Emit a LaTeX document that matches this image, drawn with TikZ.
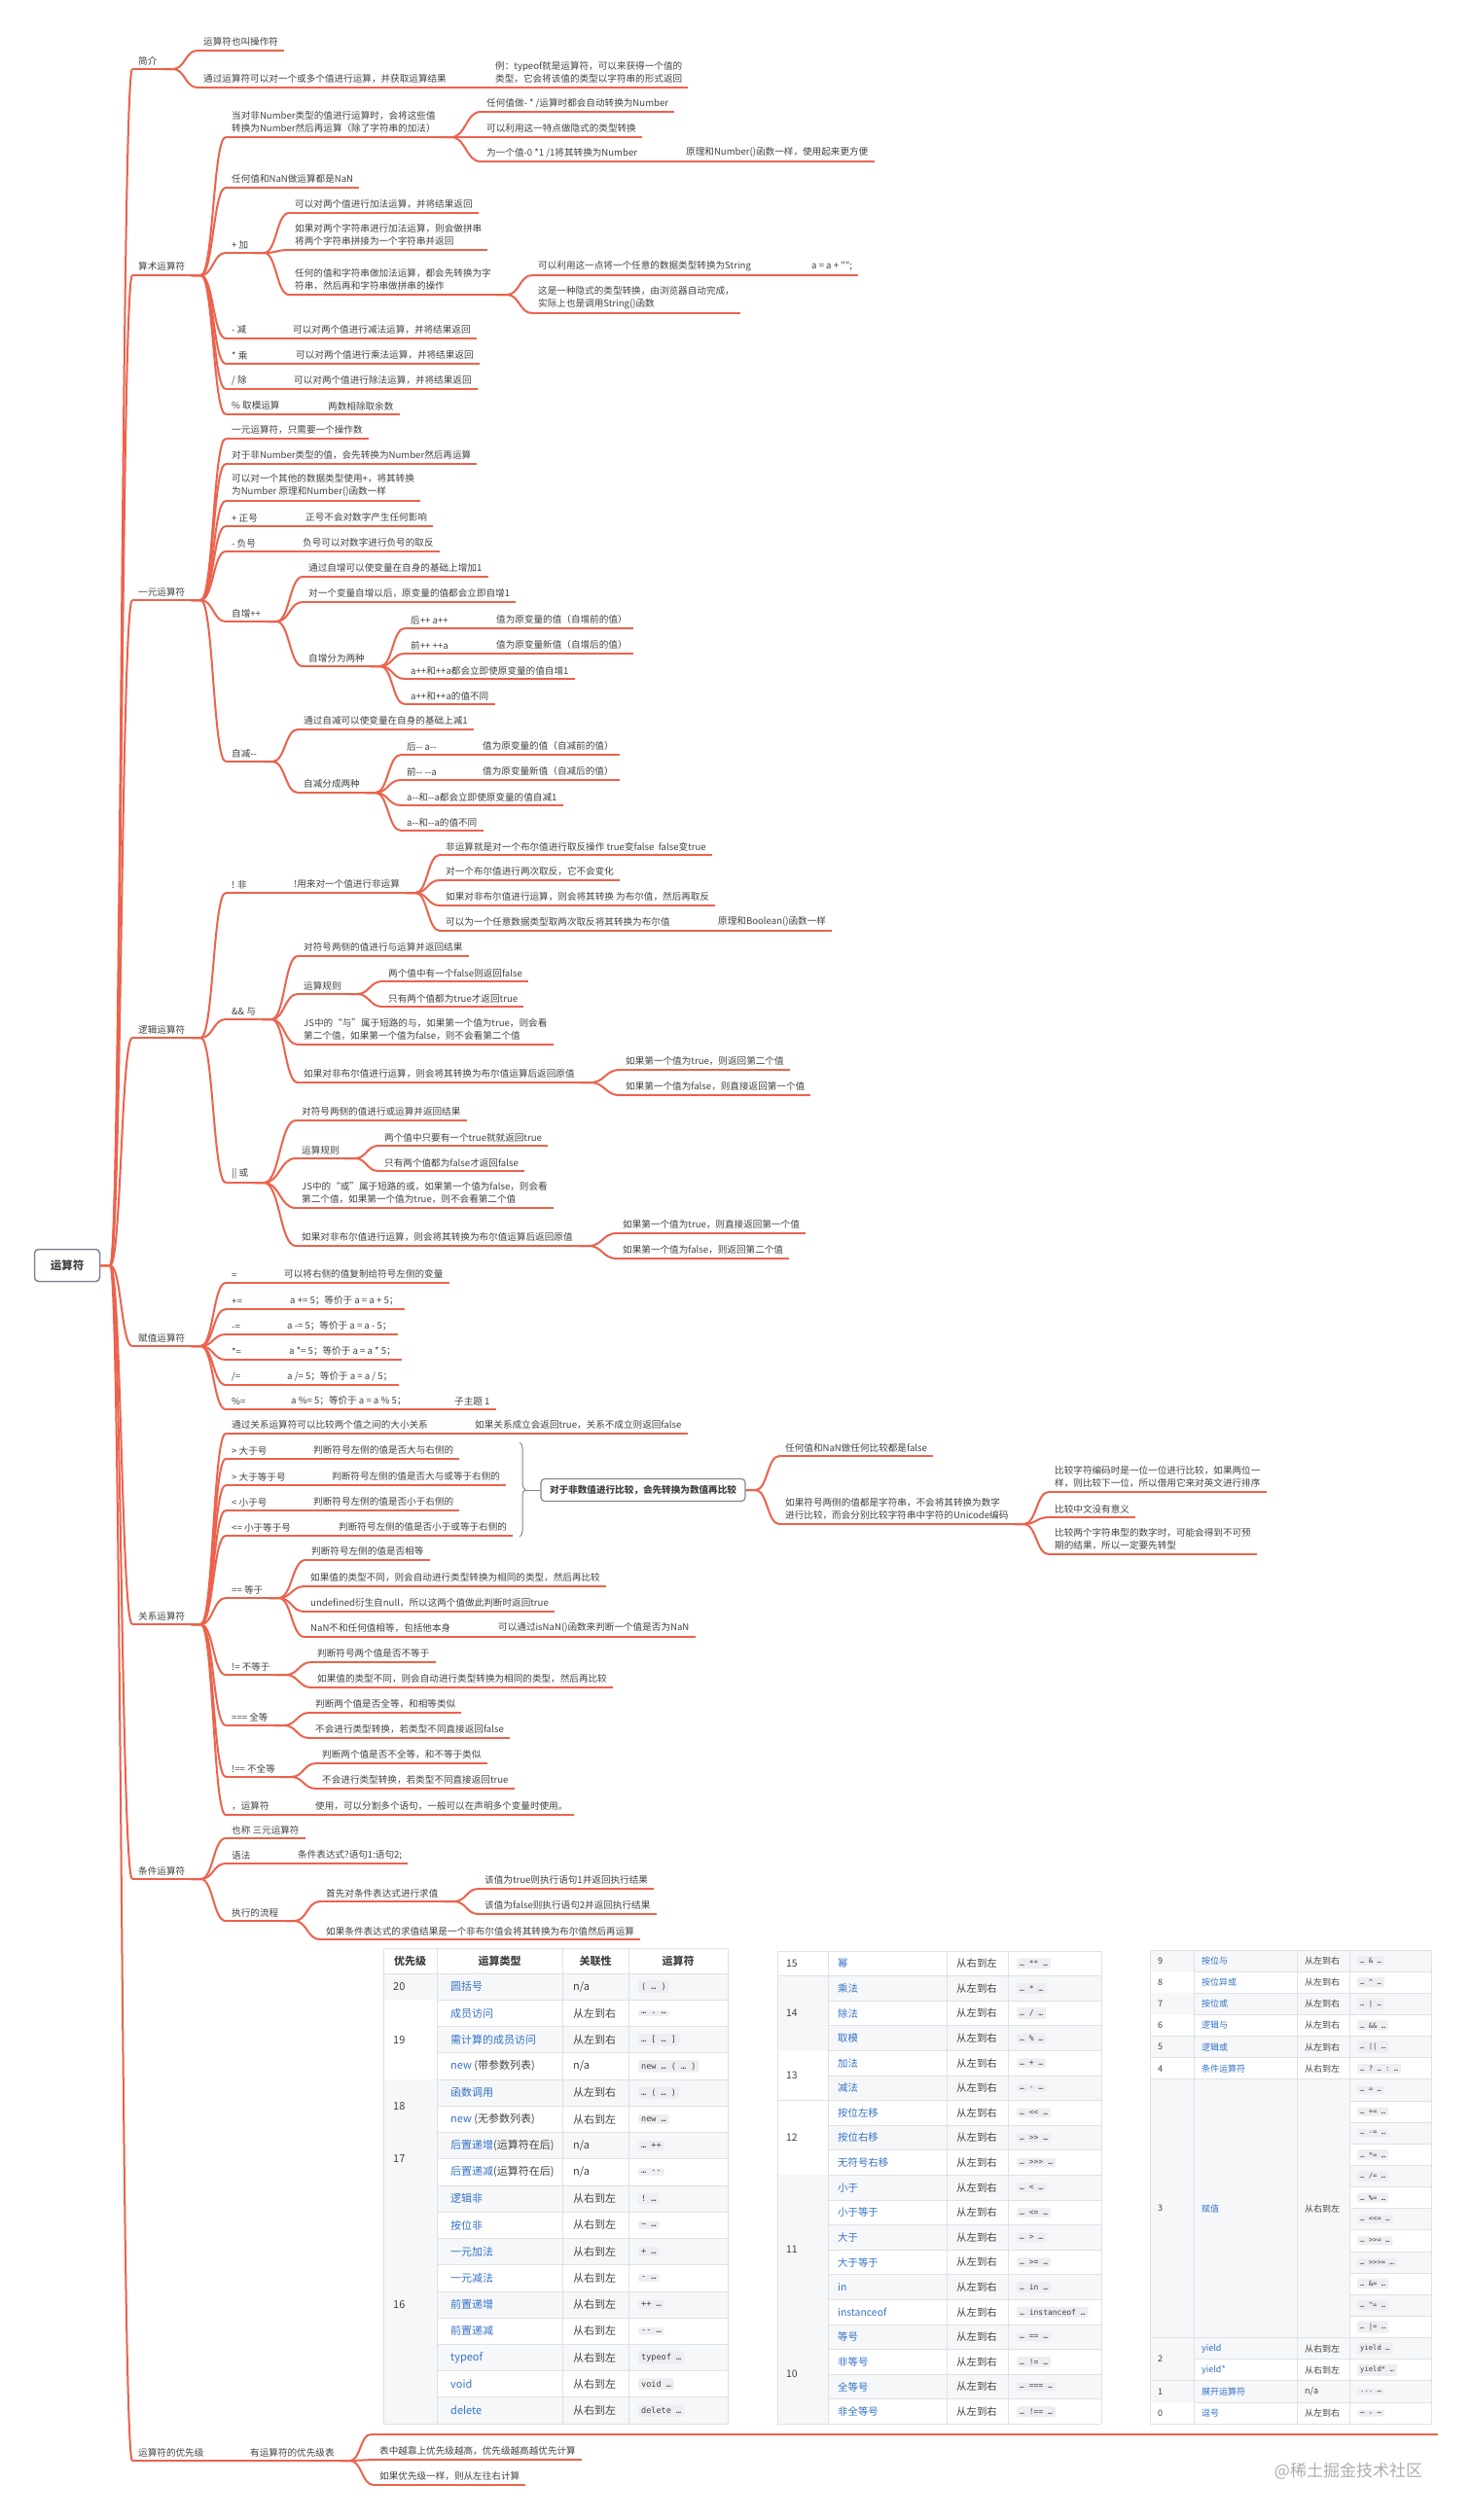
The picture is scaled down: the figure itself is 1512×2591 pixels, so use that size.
\documentclass[tikz,border=0pt]{standalone}
\usepackage{fontspec}
\setmainfont{Noto Sans CJK SC}[Ligatures=TeXOff]
\setmonofont{DejaVu Sans Mono}
\usetikzlibrary{calc,decorations.pathreplacing}
\definecolor{branch}{RGB}{236,98,76}
\definecolor{txt}{RGB}{66,66,66}
\definecolor{lnk}{RGB}{53,114,198}
\definecolor{tblline}{RGB}{222,225,229}
\definecolor{stripe}{RGB}{245,247,249}
\definecolor{pillbg}{RGB}{236,238,241}
\definecolor{boxln}{RGB}{128,134,144}
\newcommand{\lk}[1]{\textcolor{lnk}{#1}}
\newcommand{\mmfont}{\fontsize{9.6}{13}\selectfont}
\newcommand{\mmlink}[3][south east]{%
  \draw[br] let \p1=(#2.#1), \p2=(#3.south west) in
    (\p1) -- ({\x1+10pt},\y1)
    .. controls ({0.5*\x1+0.5*\x2+5pt},\y1) and ({0.5*\x1+0.5*\x2+5pt},\y2) .. (\p2);}
\tikzset{
  br/.style={draw=branch, line width=2pt},
  tn/.style={anchor=south west, inner xsep=6pt, inner ysep=4pt, text=txt, align=left, font=\mmfont,
    append after command={(\tikzlastnode.south west) edge[br] (\tikzlastnode.south east)}},
  rootbox/.style={draw=boxln, line width=1.5pt, rounded corners=4pt, minimum width=67pt,
    minimum height=33pt, text=txt, font=\fontsize{11.5}{12}\selectfont\bfseries},
  sumbox/.style={draw=boxln, line width=1.2pt, rounded corners=4pt, fill=white, minimum width=210pt,
    minimum height=23pt, text=txt, font=\fontsize{9.6}{12}\selectfont\bfseries},
  tline/.style={draw=tblline, line width=0.8pt},
  tc/.style={anchor=west, inner sep=0pt, text=txt, font=\fontsize{#1}{#1}\selectfont},
  th/.style={inner sep=0pt, text=txt, font=\fontsize{#1}{#1}\selectfont\bfseries},
  pill/.style={anchor=west, fill=pillbg, rounded corners=2pt, inner xsep=3pt, inner ysep=2.5pt,
    text=txt, font=\ttfamily\fontsize{#1}{#1}\selectfont}
}
\begin{document}
\begin{tikzpicture}[x=1pt,y=-1pt]
\fill[white] (0,0) rectangle (1512,2591);
\useasboundingbox (0,0) rectangle (1512,2591);

\node[rootbox] (root) at (69,1301) {运算符};
\node[tn] (intro) at (136,71) {简介};
\node[tn] (arith) at (136,283) {算术运算符};
\node[tn] (unary) at (136,617) {一元运算符};
\node[tn] (logic) at (136,1067) {逻辑运算符};
\node[tn] (assign) at (136,1384) {赋值运算符};
\node[tn] (rel) at (136,1670) {关系运算符};
\node[tn] (cond) at (136,1932) {条件运算符};
\node[tn] (prio) at (136,2530) {运算符的优先级};
\foreach \c in {intro,arith,unary,logic,assign,rel,cond,prio} \mmlink[east]{root}{\c};

% 简介
\node[tn] (in1) at (203,52) {运算符也叫操作符};
\node[tn] (in2) at (203,90) {通过运算符可以对一个或多个值进行运算，并获取运算结果};
\node[tn] (in2a) at (503,90) {例：typeof就是运算符，可以来获得一个值的\\类型，它会将该值的类型以字符串的形式返回};
\foreach \c in {in1,in2} \mmlink{intro}{\c};
\mmlink{in2}{in2a};

% 算术运算符
\node[tn] (ar1) at (232,141) {当对非Number类型的值进行运算时，会将这些值\\转换为Number然后再运算（除了字符串的加法）};
\node[tn] (ar1a) at (494,115) {任何值做- * /运算时都会自动转换为Number};
\node[tn] (ar1b) at (494,141) {可以利用这一特点做隐式的类型转换};
\node[tn] (ar1c) at (494,166) {为一个值-0 *1 /1将其转换为Number};
\node[tn] (ar1d) at (699,166) {原理和Number()函数一样，使用起来更方便};
\node[tn] (ar2) at (232,193) {任何值和NaN做运算都是NaN};
\node[tn] (add) at (232,260) {+ 加};
\node[tn] (add1) at (297,219) {可以对两个值进行加法运算，并将结果返回};
\node[tn] (add2) at (297,257) {如果对两个字符串进行加法运算，则会做拼串\\将两个字符串拼接为一个字符串并返回};
\node[tn] (add3) at (297,303) {任何的值和字符串做加法运算，都会先转换为字\\符串，然后再和字符串做拼串的操作};
\node[tn] (add3a) at (547,283) {可以利用这一点将一个任意的数据类型转换为String};
\node[tn] (add3b) at (828,283) {a = a + "";};
\node[tn] (add3c) at (547,322) {这是一种隐式的类型转换，由浏览器自动完成，\\实际上也是调用String()函数};
\node[tn] (sub) at (232,348) {- 减};
\node[tn] (sub1) at (295,348) {可以对两个值进行减法运算，并将结果返回};
\node[tn] (mul) at (232,374) {* 乘};
\node[tn] (mul1) at (298,374) {可以对两个值进行乘法运算，并将结果返回};
\node[tn] (div) at (232,400) {/ 除};
\node[tn] (div1) at (296,400) {可以对两个值进行除法运算，并将结果返回};
\node[tn] (mod) at (232,426) {\% 取模运算};
\node[tn] (mod1) at (331,426) {两数相除取余数};
\foreach \c in {ar1,ar2,add,sub,mul,div,mod} \mmlink{arith}{\c};
\foreach \c in {ar1a,ar1b,ar1c} \mmlink{ar1}{\c};
\mmlink{ar1c}{ar1d};
\foreach \c in {add1,add2,add3} \mmlink{add}{\c};
\foreach \c in {add3a,add3c} \mmlink{add3}{\c};
\mmlink{add3a}{add3b};
\mmlink{sub}{sub1};
\mmlink{mul}{mul1};
\mmlink{div}{div1};
\mmlink{mod}{mod1};

% 一元运算符
\node[tn] (un1) at (232,451) {一元运算符，只需要一个操作数};
\node[tn] (un2) at (232,477) {对于非Number类型的值，会先转换为Number然后再运算};
\node[tn] (un3) at (232,515) {可以对一个其他的数据类型使用+，将其转换\\为Number 原理和Number()函数一样};
\node[tn] (pos) at (232,541) {+ 正号};
\node[tn] (pos1) at (308,541) {正号不会对数字产生任何影响};
\node[tn] (neg) at (232,567) {- 负号};
\node[tn] (neg1) at (305,567) {负号可以对数字进行负号的取反};
\node[tn] (inc) at (232,639) {自增++};
\node[tn] (inc1) at (311,593) {通过自增可以使变量在自身的基础上增加1};
\node[tn] (inc2) at (311,619) {对一个变量自增以后，原变量的值都会立即自增1};
\node[tn] (inc3) at (311,685) {自增分为两种};
\node[tn] (inc3a) at (416,646) {后++ a++};
\node[tn] (inc3b) at (504,646) {值为原变量的值（自增前的值）};
\node[tn] (inc3c) at (416,672) {前++ ++a};
\node[tn] (inc3d) at (504,672) {值为原变量新值（自增后的值）};
\node[tn] (inc3e) at (416,698) {a++和++a都会立即使原变量的值自增1};
\node[tn] (inc3f) at (416,724) {a++和++a的值不同};
\node[tn] (dec) at (232,783) {自减--};
\node[tn] (dec1) at (306,750) {通过自减可以使变量在自身的基础上减1};
\node[tn] (dec2) at (306,815) {自减分成两种};
\node[tn] (dec2a) at (412,776) {后-- a--};
\node[tn] (dec2b) at (490,776) {值为原变量的值（自减前的值）};
\node[tn] (dec2c) at (412,802) {前-- --a};
\node[tn] (dec2d) at (490,802) {值为原变量新值（自减后的值）};
\node[tn] (dec2e) at (412,828) {a--和--a都会立即使原变量的值自减1};
\node[tn] (dec2f) at (412,854) {a--和--a的值不同};
\foreach \c in {un1,un2,un3,pos,neg,inc,dec} \mmlink{unary}{\c};
\mmlink{pos}{pos1};
\mmlink{neg}{neg1};
\foreach \c in {inc1,inc2,inc3} \mmlink{inc}{\c};
\foreach \c in {inc3a,inc3c,inc3e,inc3f} \mmlink{inc3}{\c};
\mmlink{inc3a}{inc3b};
\mmlink{inc3c}{inc3d};
\foreach \c in {dec1,dec2} \mmlink{dec}{\c};
\foreach \c in {dec2a,dec2c,dec2e,dec2f} \mmlink{dec2}{\c};
\mmlink{dec2a}{dec2b};
\mmlink{dec2c}{dec2d};

% 逻辑运算符
\node[tn] (not) at (232,918) {! 非};
\node[tn] (not1) at (296,918) {!用来对一个值进行非运算};
\node[tn] (not1a) at (452,879) {非运算就是对一个布尔值进行取反操作 true变false\ \ false变true};
\node[tn] (not1b) at (452,905) {对一个布尔值进行两次取反，它不会变化};
\node[tn] (not1c) at (452,931) {如果对非布尔值进行运算，则会将其转换 为布尔值，然后再取反};
\node[tn] (not1d) at (452,957) {可以为一个任意数据类型取两次取反将其转换为布尔值};
\node[tn] (not1e) at (732,957) {原理和Boolean()函数一样};
\node[tn] (and) at (232,1048) {\&\& 与};
\node[tn] (and1) at (306,983) {对符号两侧的值进行与运算并返回结果};
\node[tn] (and2) at (306,1022) {运算规则};
\node[tn] (and2a) at (393,1009) {两个值中有一个false则返回false};
\node[tn] (and2b) at (393,1035) {只有两个值都为true才返回true};
\node[tn] (and3) at (306,1074) {JS中的“与”属于短路的与，如果第一个值为true，则会看\\第二个值，如果第一个值为false，则不会看第二个值};
\node[tn] (and4) at (306,1113) {如果对非布尔值进行运算，则会将其转换为布尔值运算后返回原值};
\node[tn] (and4a) at (637,1100) {如果第一个值为true，则返回第二个值};
\node[tn] (and4b) at (637,1126) {如果第一个值为false，则直接返回第一个值};
\node[tn] (or) at (232,1216) {|| 或};
\node[tn] (or1) at (304,1152) {对符号两侧的值进行或运算并返回结果};
\node[tn] (or2) at (304,1191) {运算规则};
\node[tn] (or2a) at (389,1178) {两个值中只要有一个true就就返回true};
\node[tn] (or2b) at (389,1204) {只有两个值都为false才返回false};
\node[tn] (or3) at (304,1242) {JS中的“或”属于短路的或，如果第一个值为false，则会看\\第二个值，如果第一个值为true，则不会看第二个值};
\node[tn] (or4) at (304,1281) {如果对非布尔值进行运算，则会将其转换为布尔值运算后返回原值};
\node[tn] (or4a) at (634,1268) {如果第一个值为true，则直接返回第一个值};
\node[tn] (or4b) at (634,1294) {如果第一个值为false，则返回第二个值};
\foreach \c in {not,and,or} \mmlink{logic}{\c};
\mmlink{not}{not1};
\foreach \c in {not1a,not1b,not1c,not1d} \mmlink{not1}{\c};
\mmlink{not1d}{not1e};
\foreach \c in {and1,and2,and3,and4} \mmlink{and}{\c};
\foreach \c in {and2a,and2b} \mmlink{and2}{\c};
\foreach \c in {and4a,and4b} \mmlink{and4}{\c};
\foreach \c in {or1,or2,or3,or4} \mmlink{or}{\c};
\foreach \c in {or2a,or2b} \mmlink{or2}{\c};
\foreach \c in {or4a,or4b} \mmlink{or4}{\c};

% 赋值运算符
\node[tn] (eq) at (232,1319) {=};
\node[tn] (eq1) at (286,1319) {可以将右侧的值复制给符号左侧的变量};
\node[tn] (pe) at (232,1346) {+=};
\node[tn] (pe1) at (292,1346) {a += 5；等价于 a = a + 5；};
\node[tn] (me) at (232,1372) {-=};
\node[tn] (me1) at (289,1372) {a -= 5；等价于 a = a - 5；};
\node[tn] (te) at (232,1398) {*=};
\node[tn] (te1) at (291,1398) {a *= 5；等价于 a = a * 5；};
\node[tn] (de) at (232,1424) {/=};
\node[tn] (de1) at (289,1424) {a /= 5；等价于 a = a / 5；};
\node[tn] (re) at (232,1449) {\%=};
\node[tn] (re1) at (293,1449) {a \%= 5；等价于 a = a \% 5；};
\node[tn] (re2) at (461,1449) {子主题 1};
\foreach \c in {eq,pe,me,te,de,re} \mmlink{assign}{\c};
\mmlink{eq}{eq1};
\mmlink{pe}{pe1};
\mmlink{me}{me1};
\mmlink{te}{te1};
\mmlink{de}{de1};
\mmlink{re}{re1};
\mmlink{re1}{re2};

% 关系运算符
\node[tn] (r0) at (232,1474) {通过关系运算符可以比较两个值之间的大小关系};
\node[tn] (r0a) at (482,1474) {如果关系成立会返回true，关系不成立则返回false};
\node[tn] (gt) at (232,1500) {> 大于号};
\node[tn] (gt1) at (316,1500) {判断符号左侧的值是否大与右侧的};
\node[tn] (ge) at (232,1527) {> 大于等于号};
\node[tn] (ge1) at (335,1527) {判断符号左侧的值是否大与或等于右侧的};
\node[tn] (lt) at (232,1553) {< 小于号};
\node[tn] (lt1) at (316,1553) {判断符号左侧的值是否小于右侧的};
\node[tn] (le) at (232,1579) {<= 小于等于号};
\node[tn] (le1) at (342,1579) {判断符号左侧的值是否小于或等于右侧的};
\draw[decorate, decoration={brace, amplitude=6pt}, draw=boxln, line width=1pt] (534,1483) -- (534,1580);
\coordinate (brtip) at (540,1532);
\node[sumbox] (cmp) at (661,1532) {对于非数值进行比较，会先转换为数值再比较};
\draw[draw=boxln, line width=1pt] (brtip) -- (cmp.west);
\node[tn] (cmpa) at (801,1497) {任何值和NaN做任何比较都是false};
\node[tn] (cmpb) at (801,1567) {如果符号两侧的值都是字符串，不会将其转换为数字\\进行比较，而会分别比较字符串中字符的Unicode编码};
\node[tn] (cmpb1) at (1078,1534) {比较字符编码时是一位一位进行比较，如果两位一\\样，则比较下一位，所以借用它来对英文进行排序};
\node[tn] (cmpb2) at (1078,1560) {比较中文没有意义};
\node[tn] (cmpb3) at (1078,1598) {比较两个字符串型的数字时，可能会得到不可预\\期的结果，所以一定要先转型};
\node[tn] (equ) at (232,1643) {== 等于};
\node[tn] (equ1) at (314,1604) {判断符号左侧的值是否相等};
\node[tn] (equ2) at (313,1631) {如果值的类型不同，则会自动进行类型转换为相同的类型，然后再比较};
\node[tn] (equ3) at (313,1657) {undefined衍生自null，所以这两个值做此判断时返回true};
\node[tn] (equ4) at (313,1683) {NaN不和任何值相等，包括他本身};
\node[tn] (equ4a) at (506,1683) {可以通过isNaN()函数来判断一个值是否为NaN};
\node[tn] (neq) at (232,1722) {!= 不等于};
\node[tn] (neq1) at (320,1709) {判断符号两个值是否不等于};
\node[tn] (neq2) at (320,1735) {如果值的类型不同，则会自动进行类型转换为相同的类型，然后再比较};
\node[tn] (seq) at (232,1774) {=== 全等};
\node[tn] (seq1) at (318,1761) {判断两个值是否全等，和相等类似};
\node[tn] (seq2) at (318,1787) {不会进行类型转换，若类型不同直接返回false};
\node[tn] (sne) at (232,1827) {!== 不全等};
\node[tn] (sne1) at (325,1813) {判断两个值是否不全等，和不等于类似};
\node[tn] (sne2) at (325,1839) {不会进行类型转换，若类型不同直接返回true};
\node[tn] (com) at (232,1866) {，运算符};
\node[tn] (com1) at (318,1866) {使用，可以分割多个语句，一般可以在声明多个变量时使用。};
\foreach \c in {r0,gt,ge,lt,le,equ,neq,seq,sne,com} \mmlink{rel}{\c};
\mmlink{r0}{r0a};
\mmlink{gt}{gt1};
\mmlink{ge}{ge1};
\mmlink{lt}{lt1};
\mmlink{le}{le1};
\foreach \c in {cmpa,cmpb} \mmlink[east]{cmp}{\c};
\foreach \c in {cmpb1,cmpb2,cmpb3} \mmlink{cmpb}{\c};
\foreach \c in {equ1,equ2,equ3,equ4} \mmlink{equ}{\c};
\mmlink{equ4}{equ4a};
\foreach \c in {neq1,neq2} \mmlink{neq}{\c};
\foreach \c in {seq1,seq2} \mmlink{seq}{\c};
\foreach \c in {sne1,sne2} \mmlink{sne}{\c};
\mmlink{com}{com1};

% 条件运算符
\node[tn] (c1) at (232,1890) {也称 三元运算符};
\node[tn] (c2) at (232,1916) {语法};
\node[tn] (c2a) at (300,1916) {条件表达式?语句1:语句2;};
\node[tn] (c3) at (232,1975) {执行的流程};
\node[tn] (c3a) at (329,1955) {首先对条件表达式进行求值};
\node[tn] (c3a1) at (492,1942) {该值为true则执行语句1并返回执行结果};
\node[tn] (c3a2) at (492,1968) {该值为false则执行语句2并返回执行结果};
\node[tn] (c3b) at (329,1994) {如果条件表达式的求值结果是一个非布尔值会将其转换为布尔值然后再运算};
\foreach \c in {c1,c2,c3} \mmlink{cond}{\c};
\mmlink{c2}{c2a};
\foreach \c in {c3a,c3b} \mmlink{c3}{\c};
\foreach \c in {c3a1,c3a2} \mmlink{c3a}{\c};

% 运算符的优先级
\node[tn] (pr1) at (251,2530) {有运算符的优先级表};
\node[tn, minimum width=1097pt] (tbl) at (381,2503) {};
\node[tn] (pr1b) at (384,2529) {表中越靠上优先级越高，优先级越高越优先计算};
\node[tn] (pr1c) at (384,2555) {如果优先级一样，则从左往右计算};
\mmlink{prio}{pr1};
\foreach \c in {tbl,pr1b,pr1c} \mmlink{pr1}{\c};

% table 1
\foreach \ri in {1,3,...,17} \fill[stripe] (449,{2029+(\ri-1)*27.24}) rectangle (748,{2029+\ri*27.24});
\foreach \sa/\sb/\n/\f in {1/1/20/stripe,2/4/19/white,5/6/18/stripe,7/8/17/stripe,9/17/16/stripe}{
  \fill[\f] (394,{2029+(\sa-1)*27.24}) rectangle (449,{2029+\sb*27.24});
  \node[tc=11] (t1a\n) at (404,{2029+(\sa+\sb-1)*13.62}) {\n};
  \draw[tline] (394,{2029+\sb*27.24}) -- (449,{2029+\sb*27.24});
}
\foreach \ri in {0,...,17} \draw[tline] (449,{2029+\ri*27.24}) -- (748,{2029+\ri*27.24});
\draw[tline] (394,2003) -- (748,2003);
\draw[tline] (394,2029) -- (449,2029);
\foreach \x in {394,449,578,646,748} \draw[tline] (\x,2003) -- (\x,2492.1);
\foreach \x/\h [count=\i] in {421.5/优先级,513.5/运算类型,612/关联性,697/运算符}
  \node[th=11] (t1h\i) at (\x,2016) {\h};
\foreach \typ/\asc/\op [count=\ri] in {
  {\lk{圆括号}}/{n/a}/{( … )},
  {\lk{成员访问}}/从左到右/{… . …},
  {\lk{需计算的成员访问}}/从左到右/{… [ … ]},
  {\lk{new} (带参数列表)}/{n/a}/{new … ( … )},
  {\lk{函数调用}}/从左到右/{… ( … )},
  {\lk{new} (无参数列表)}/从右到左/{new …},
  {\lk{后置递增}(运算符在后)}/{n/a}/{… ++},
  {\lk{后置递减}(运算符在后)}/{n/a}/{… --},
  {\lk{逻辑非}}/从右到左/{! …},
  {\lk{按位非}}/从右到左/{\textasciitilde{} …},
  {\lk{一元加法}}/从右到左/{+ …},
  {\lk{一元减法}}/从右到左/{- …},
  {\lk{前置递增}}/从右到左/{++ …},
  {\lk{前置递减}}/从右到左/{-- …},
  {\lk{typeof}}/从右到左/{typeof …},
  {\lk{void}}/从右到左/{void …},
  {\lk{delete}}/从右到左/{delete …}}
{
  \node[tc=11] (t1b\ri) at (463,{2029+(\ri-0.5)*27.24}) {\typ};
  \node[tc=11] (t1c\ri) at (589,{2029+(\ri-0.5)*27.24}) {\asc};
  \node[pill=8.5] (t1d\ri) at (656,{2029+(\ri-0.5)*27.24}) {\op};
}

% table 2
\foreach \ri in {2,4,...,18} \fill[stripe] (851,{2006+(\ri-1)*25.6}) rectangle (1132,{2006+\ri*25.6});
\foreach \sa/\sb/\n/\f in {1/1/15/white,2/4/14/stripe,5/6/13/white,7/9/12/white,10/15/11/stripe,16/19/10/stripe}{
  \fill[\f] (799,{2006+(\sa-1)*25.6}) rectangle (851,{2006+\sb*25.6});
  \node[tc=10.4] (t2a\n) at (808,{2006+(\sa+\sb-1)*12.8}) {\n};
  \draw[tline] (799,{2006+\sb*25.6}) -- (851,{2006+\sb*25.6});
}
\foreach \ri in {0,...,19} \draw[tline] (851,{2006+\ri*25.6}) -- (1132,{2006+\ri*25.6});
\draw[tline] (799,2006) -- (851,2006);
\foreach \x in {799,851,973,1036,1132} \draw[tline] (\x,2006) -- (\x,2492.4);
\foreach \typ/\asc/\op [count=\ri] in {
  幂/从右到左/{… ** …},
  乘法/从左到右/{… * …},
  除法/从左到右/{… / …},
  取模/从左到右/{… \% …},
  加法/从左到右/{… + …},
  减法/从左到右/{… - …},
  按位左移/从左到右/{… << …},
  按位右移/从左到右/{… >> …},
  无符号右移/从左到右/{… >>> …},
  小于/从左到右/{… < …},
  小于等于/从左到右/{… <= …},
  大于/从左到右/{… > …},
  大于等于/从左到右/{… >= …},
  in/从左到右/{… in …},
  instanceof/从左到右/{… instanceof …},
  等号/从左到右/{… == …},
  非等号/从左到右/{… != …},
  全等号/从左到右/{… === …},
  非全等号/从左到右/{… !== …}}
{
  \node[tc=10.4] (t2b\ri) at (861,{2006+(\ri-0.5)*25.6}) {\lk{\typ}};
  \node[tc=10.4] (t2c\ri) at (983,{2006+(\ri-0.5)*25.6}) {\asc};
  \node[pill=8] (t2d\ri) at (1045,{2006+(\ri-0.5)*25.6}) {\op};
}

% table 3
\foreach \ri in {1,3,...,21} \fill[stripe] (1227,{2005+(\ri-1)*22.14}) rectangle (1471,{2005+\ri*22.14});
\fill[stripe] (1227,{2005+6*22.14}) rectangle (1387,{2005+18*22.14});
\foreach \sa/\sb/\n/\f in {1/1/9/stripe,2/2/8/white,3/3/7/stripe,4/4/6/white,5/5/5/stripe,6/6/4/white,7/18/3/stripe,19/20/2/stripe,21/21/1/stripe,22/22/0/white}{
  \fill[\f] (1182,{2005+(\sa-1)*22.14}) rectangle (1227,{2005+\sb*22.14});
  \node[tc=9] (t3a\n) at (1190,{2005+(\sa+\sb-1)*11.07}) {\n};
  \draw[tline] (1182,{2005+\sb*22.14}) -- (1227,{2005+\sb*22.14});
}
\foreach \ri in {0,...,22} \draw[tline] (1387,{2005+\ri*22.14}) -- (1471,{2005+\ri*22.14});
\foreach \ri in {0,1,2,3,4,5,6,18,19,20,21,22} \draw[tline] (1227,{2005+\ri*22.14}) -- (1387,{2005+\ri*22.14});
\draw[tline] (1182,2005) -- (1227,2005);
\foreach \x in {1182,1227,1333,1387,1471} \draw[tline] (\x,2005) -- (\x,2492.1);
\foreach \ri/\typ/\asc/\op in {
  1/按位与/从左到右/{… \& …},
  2/按位异或/从左到右/{… \textasciicircum{} …},
  3/按位或/从左到右/{… | …},
  4/逻辑与/从左到右/{… \&\& …},
  5/逻辑或/从左到右/{… || …},
  6/条件运算符/从右到左/{… ? … : …},
  19/yield/从右到左/{yield …},
  20/yield*/从右到左/{yield* …},
  21/展开运算符/{n/a}/{... …},
  22/逗号/从左到右/{… , …}}
{
  \node[tc=9] (t3b\ri) at (1235,{2005+(\ri-0.5)*22.14}) {\lk{\typ}};
  \node[tc=9] (t3c\ri) at (1341,{2005+(\ri-0.5)*22.14}) {\asc};
  \node[pill=7.2] (t3d\ri) at (1395,{2005+(\ri-0.5)*22.14}) {\op};
}
\node[tc=9] (t3b7) at (1235,{2005+12*22.14}) {\lk{赋值}};
\node[tc=9] (t3c7) at (1341,{2005+12*22.14}) {从右到左};
\foreach \op [count=\i from 7] in {{… = …},{… += …},{… -= …},{… *= …},{… /= …},{… \%= …},{… <<= …},{… >>= …},{… >>>= …},{… \&= …},{… \textasciicircum{}= …},{… |= …}}
  \node[pill=7.2] (t3d\i) at (1395,{2005+(\i-0.5)*22.14}) {\op};

\node[text=black!32, font=\fontsize{17}{17}\selectfont] (wm) at (1386,2541) {@稀土掘金技术社区};
\end{tikzpicture}
\end{document}
